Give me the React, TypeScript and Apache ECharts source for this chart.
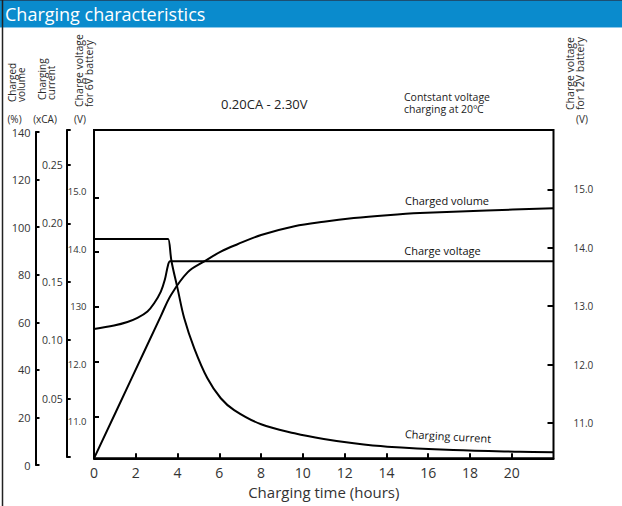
import React, { useEffect, useRef } from "react";
import * as echarts from "echarts";

// ---- data ----
const hourTickLabels = ["0", "2", "4", "6", "8", "10", "12", "14", "16", "18", "20"];
const volumeTickLabels = ["0", "20", "40", "60", "80", "100", "120", "140"];
const currentTickLabels = ["0.05", "0.10", "0.15", "0.20", "0.25"];
const volt6TickLabels = ["11.0", "12.0", "130", "14.0", "15.0"];
const volt12TickLabels = ["11.0", "12.0", "13.0", "14.0", "15.0"];

// Charged volume (%)
const volumeHours = [0, 1.8, 3.2, 3.68, 4.48, 5.28, 6.07, 6.87, 8.0, 9.6, 11.0, 12.44, 14.04, 15.6, 18.8, 22];
const volumeValues = [2.8, 36.4, 62.6, 71.4, 81.0, 85.6, 89.7, 92.8, 96.7, 100.4, 102.3, 103.8, 105.0, 105.9, 107.0, 107.9];

// Charging current (xCA)
const currentHours = [0, 3.45, 3.55, 3.71, 4.0, 4.32, 4.8, 5.43, 6.07, 6.71, 8.0, 9.6, 11.0, 12.44, 14.04, 17.2, 20.4, 22];
const currentValues = [0.1867, 0.1867, 0.1867, 0.1676, 0.1444, 0.1188, 0.0931, 0.0674, 0.0503, 0.0402, 0.028, 0.0203, 0.0154, 0.0117, 0.0088, 0.006, 0.0045, 0.004];

// Charge voltage for 12V battery (V)
const voltageHours = [0, 0.96, 1.6, 2.08, 2.56, 2.88, 3.2, 3.39, 3.55, 3.64, 3.8, 22];
const voltageValues = [12.61, 12.67, 12.73, 12.8, 12.91, 13.05, 13.25, 13.45, 13.71, 13.77, 13.77, 13.77];

const zip = (xs: number[], ys: number[]) => xs.map((x, i) => [x, ys[i]]);

const FONT = "Open Sans";
const TXT = "#2a2a2a";

export default function App() {
  const ref = useRef<HTMLDivElement>(null);

  useEffect(() => {
    document.body.style.margin = "0";
    const chart = echarts.init(ref.current!, null, { renderer: "svg" });

    const L = 94;
    const R = 68.5;
    const H = 506;
    const hiddenX = (gridIndex: number) => ({
      type: "value",
      gridIndex,
      min: 0,
      max: 22,
      show: false,
    });
    const blackLine = { show: true, onZero: false, lineStyle: { color: "#000", width: 2 } };

    const option: any = {
      animation: false,
      textStyle: { fontFamily: FONT },
      grid: [
        { left: L, right: R, top: 130, bottom: H - 458.3, show: true, borderColor: "#000", borderWidth: 2, backgroundColor: "transparent" },
        { left: L, right: R, top: 132, bottom: H - 465 },
        { left: L, right: R, top: 130, bottom: H - 457 },
        { left: L, right: R, top: 197.3, bottom: H - 416.7 },
        { left: L, right: R, top: 189.3, bottom: H - 423 },
        { left: L, right: R, top: 191.7, bottom: H - 421.7 },
      ],
      xAxis: [
        {
          type: "value",
          gridIndex: 0,
          min: 0,
          max: 22,
          interval: 2,
          axisLine: blackLine,
          axisTick: { show: true, inside: true, length: 5, lineStyle: { color: "#000", width: 2 } },
          splitLine: { show: false },
          axisLabel: {
            color: "#333",
            fontSize: 14,
            margin: 7,
            showMaxLabel: false,
            formatter: (v: number) => {
              const i = Math.round(v / 2);
              return hourTickLabels[i] ?? "";
            },
          },
          name: "Charging time (hours)",
          nameLocation: "middle",
          nameGap: 25,
          nameTextStyle: { color: "#333", fontSize: 15 },
        },
        hiddenX(1),
        hiddenX(2),
        hiddenX(3),
        hiddenX(4),
        hiddenX(5),
      ],
      yAxis: [
        { type: "value", gridIndex: 0, show: false, min: 0, max: 1 },
        {
          type: "value",
          gridIndex: 1,
          min: 0,
          max: 140,
          interval: 20,
          position: "left",
          offset: 58.5,
          axisLine: blackLine,
          axisTick: { show: true, inside: true, length: 4, lineStyle: { color: "#000", width: 2 } },
          splitLine: { show: false },
          axisLabel: {
            color: "#333",
            fontSize: 11,
            margin: 5,
            formatter: (v: number) => volumeTickLabels[Math.round(v / 20)] ?? "",
          },
        },
        {
          type: "value",
          gridIndex: 2,
          min: 0,
          max: 0.28,
          interval: 0.05,
          position: "left",
          offset: 27.3,
          axisLine: blackLine,
          axisTick: { show: true, inside: true, length: 4, lineStyle: { color: "#000", width: 2 } },
          splitLine: { show: false },
          axisLabel: {
            color: "#333",
            fontSize: 10.5,
            margin: 4,
            formatter: (v: number) => {
              const k = Math.round(v / 0.05);
              if (Math.abs(v - k * 0.05) > 1e-6 || k < 1) return "";
              return currentTickLabels[k - 1] ?? "";
            },
          },
        },
        {
          type: "value",
          gridIndex: 3,
          min: 11,
          max: 15,
          interval: 1,
          position: "left",
          axisLine: { show: false, onZero: false },
          axisTick: { show: true, inside: true, length: 5, lineStyle: { color: "#000", width: 2 } },
          splitLine: { show: false },
          axisLabel: { show: false },
        },
        {
          type: "value",
          gridIndex: 4,
          min: 11,
          max: 15,
          interval: 1,
          position: "right",
          axisLine: { show: false, onZero: false },
          axisTick: { show: true, inside: true, length: 6, lineStyle: { color: "#000", width: 2 } },
          splitLine: { show: false },
          axisLabel: {
            color: "#333",
            fontSize: 10,
            margin: 20,
            formatter: (v: number) => volt12TickLabels[Math.round(v - 11)] ?? "",
          },
        },
        {
          type: "value",
          gridIndex: 5,
          min: 11,
          max: 15,
          interval: 1,
          position: "left",
          axisLine: { show: false, onZero: false },
          axisTick: { show: false },
          splitLine: { show: false },
          axisLabel: {
            color: "#333",
            fontSize: 9.5,
            margin: 7.5,
            formatter: (v: number) => volt6TickLabels[Math.round(v - 11)] ?? "",
          },
        },
      ],
      series: [
        {
          name: "Charged volume",
          type: "line",
          xAxisIndex: 1,
          yAxisIndex: 1,
          data: zip(volumeHours, volumeValues),
          smooth: 0.35,
          symbol: "none",
          clip: false,
          lineStyle: { color: "#000", width: 2 },
        },
        {
          name: "Charging current",
          type: "line",
          xAxisIndex: 2,
          yAxisIndex: 2,
          data: zip(currentHours, currentValues),
          smooth: 0.35,
          symbol: "none",
          clip: false,
          lineStyle: { color: "#000", width: 2 },
        },
        {
          name: "Charge voltage",
          type: "line",
          xAxisIndex: 4,
          yAxisIndex: 4,
          data: zip(voltageHours, voltageValues),
          smooth: 0.35,
          symbol: "none",
          clip: false,
          lineStyle: { color: "#000", width: 2 },
        },
      ],
      graphic: [
        { type: "rect", shape: { x: 0, y: 0, width: 622, height: 27 }, style: { fill: "#0a8bcd" } },
        { type: "line", shape: { x1: 0, y1: 0.5, x2: 622, y2: 0.5 }, style: { stroke: "#1c4f73", lineWidth: 1 } },
        { type: "line", shape: { x1: 0, y1: 27.5, x2: 622, y2: 27.5 }, style: { stroke: "#8cc8ea", lineWidth: 1 } },
        { type: "line", shape: { x1: 2.5, y1: 0, x2: 2.5, y2: 506 }, style: { stroke: "#222", lineWidth: 1.5 } },
        {
          type: "text",
          x: 5,
          y: 14,
          style: { text: "Charging characteristics", fill: "#fff", fontSize: 18, fontFamily: FONT, verticalAlign: "middle", align: "left" },
        },
        {
          type: "text",
          x: 221,
          y: 104,
          style: { text: "0.20CA - 2.30V", fill: "#222", fontSize: 13, fontFamily: FONT, verticalAlign: "middle", align: "left" },
        },
        {
          type: "text",
          x: 404,
          y: 103,
          style: { text: "Contstant voltage\ncharging at 20ºC", fill: "#222", fontSize: 10.5, lineHeight: 12.5, fontFamily: FONT, verticalAlign: "middle", align: "left" },
        },
        // rotated axis names
        {
          type: "text",
          x: 16.5,
          y: 102,
          rotation: Math.PI / 2,
          style: { text: "Charged\nvolume", fill: TXT, fontSize: 10, lineHeight: 9, fontFamily: FONT, verticalAlign: "middle", align: "left" },
        },
        {
          type: "text",
          x: 46,
          y: 100,
          rotation: Math.PI / 2,
          style: { text: "Charging\ncurrent", fill: TXT, fontSize: 10, lineHeight: 9, fontFamily: FONT, verticalAlign: "middle", align: "left" },
        },
        {
          type: "text",
          x: 84,
          y: 107,
          rotation: Math.PI / 2,
          style: { text: "Charge voltage\nfor 6V battery", fill: TXT, fontSize: 10.5, lineHeight: 9.5, fontFamily: FONT, verticalAlign: "middle", align: "left" },
        },
        {
          type: "text",
          x: 575,
          y: 110,
          rotation: Math.PI / 2,
          style: { text: "Charge voltage\nfor 12V battery", fill: TXT, fontSize: 10.5, lineHeight: 10, fontFamily: FONT, verticalAlign: "middle", align: "left" },
        },
        // units
        { type: "text", x: 14.5, y: 119, style: { text: "(%)", fill: TXT, fontSize: 10, fontFamily: FONT, align: "center", verticalAlign: "middle" } },
        { type: "text", x: 45, y: 119, style: { text: "(xCA)", fill: TXT, fontSize: 10, fontFamily: FONT, align: "center", verticalAlign: "middle" } },
        { type: "text", x: 80, y: 119, style: { text: "(V)", fill: TXT, fontSize: 10, fontFamily: FONT, align: "center", verticalAlign: "middle" } },
        { type: "text", x: 582, y: 119, style: { text: "(V)", fill: TXT, fontSize: 10, fontFamily: FONT, align: "center", verticalAlign: "middle" } },
        // curve annotations
        { type: "text", x: 447, y: 200, style: { text: "Charged volume", fill: "#111", fontSize: 11, fontFamily: FONT, align: "center", verticalAlign: "middle" } },
        { type: "text", x: 442.5, y: 250, style: { text: "Charge voltage", fill: "#111", fontSize: 11, fontFamily: FONT, align: "center", verticalAlign: "middle" } },
        {
          type: "text",
          x: 448,
          y: 436,
          rotation: -0.055,
          style: { text: "Charging current", fill: "#111", fontSize: 11, fontFamily: FONT, align: "center", verticalAlign: "middle" },
        },
      ],
    };

    chart.setOption(option);
    return () => chart.dispose();
  }, []);

  return <div ref={ref} style={{ width: 622, height: 506, background: "#fff" }} />;
}
